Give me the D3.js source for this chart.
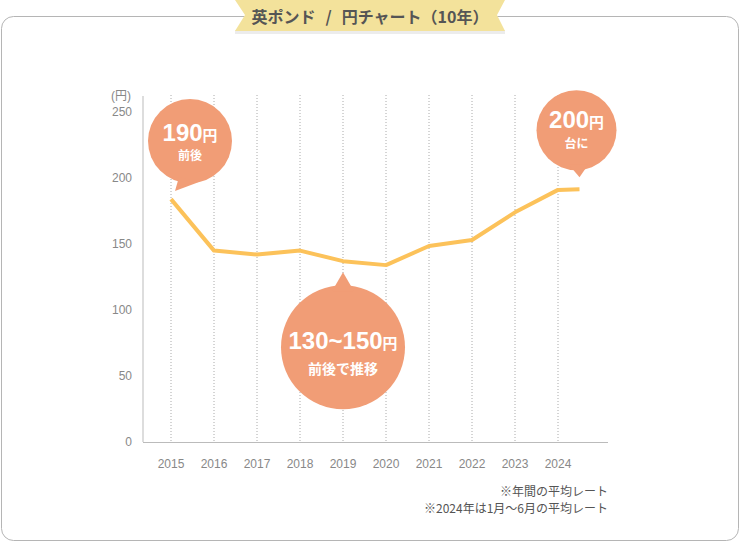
<!DOCTYPE html>
<html><head><meta charset="utf-8">
<script src="https://cdn.jsdelivr.net/npm/d3@7/dist/d3.min.js"></script>
<style>
html,body{margin:0;padding:0;background:#fff;}
svg{display:block;font-family:"Liberation Sans","Noto Sans CJK JP",sans-serif;}
</style></head><body>
<svg id="c" width="740" height="543"></svg>
<script>
const years = [2015,2016,2017,2018,2019,2020,2021,2022,2023,2024];
const xPoints = [2015,2016,2017,2018,2019,2020,2021,2022,2023,2024,2024.5];
const rates = [184,145,142,145,137,134,148.5,153,174,191,191.5];
const yTicks = [0,50,100,150,200,250];
const titleParts = ["英ポンド","/","円チャート（10年）"];
const notes = ["※年間の平均レート","※2024年は1月～6月の平均レート"];

const svg = d3.select("#c");
const x = d3.scaleLinear().domain([2015,2024]).range([171,558]);
const y = d3.scaleLinear().domain([0,250]).range([442,112]);

// frame
svg.append("rect").attr("x",1.5).attr("y",16.5).attr("width",737).attr("height",524)
  .attr("rx",12).attr("fill","#fff").attr("stroke","#b5b5b5").attr("stroke-width",1);

// title banner
svg.append("rect").attr("x",235).attr("y",30).attr("width",270).attr("height",4).attr("fill","#ececec");
svg.append("path").attr("d","M235,0 L505,0 L497,15 L505,31 L235,31 L245,15 Z").attr("fill","#f3e29b");
const tt = svg.append("text").attr("x",370).attr("y",22.5).attr("text-anchor","middle")
  .attr("font-size",16).attr("font-weight","bold").attr("fill","#555")
  .attr("font-family","'Noto Sans CJK JP',sans-serif");
tt.selectAll("tspan").data(titleParts).join("tspan").attr("dx",(d,i)=>i?10:0).text(d=>d);

// grid
svg.append("g").selectAll("line").data(years).join("line")
  .attr("x1",d=>x(d)).attr("x2",d=>x(d)).attr("y1",95).attr("y2",442)
  .attr("stroke","#aaa").attr("stroke-width",1).attr("stroke-dasharray","1,2");

// axes lines
svg.append("line").attr("x1",143).attr("x2",143).attr("y1",96).attr("y2",442).attr("stroke","#bbb");
svg.append("line").attr("x1",143).attr("x2",608).attr("y1",442.5).attr("y2",442.5).attr("stroke","#bbb");

// y labels
svg.append("g").selectAll("text").data(yTicks).join("text")
  .attr("x",132).attr("y",d=>y(d)+4).attr("text-anchor","end")
  .attr("font-size",12).attr("fill","#888").text(d=>d);
svg.append("text").attr("x",121).attr("y",100).attr("text-anchor","middle")
  .attr("font-size",12).attr("fill","#888").text("(円)");

// x labels
svg.append("g").selectAll("text").data(years).join("text")
  .attr("x",d=>x(d)).attr("y",468).attr("text-anchor","middle")
  .attr("font-size",12).attr("fill","#888").text(d=>d);

// line
const line = d3.line().x((d,i)=>x(xPoints[i])).y(d=>y(d));
svg.append("path").datum(rates).attr("d",line).attr("fill","none")
  .attr("stroke","#fcc25a").attr("stroke-width",4).attr("stroke-linejoin","round");

// bubbles
const bub = "#f19d76";
function bubble(cx,cy,r,tail,big,unit,sub,bigSize,subSize,bigDy,subDy){
  const g = svg.append("g");
  g.append("circle").attr("cx",cx).attr("cy",cy).attr("r",r).attr("fill",bub);
  g.append("path").attr("d","M"+tail.map(p=>p.join(",")).join("L")+"Z").attr("fill",bub);
  const t = g.append("text").attr("x",cx).attr("y",cy+bigDy).attr("text-anchor","middle")
    .attr("fill","#fff").attr("font-weight","bold");
  t.append("tspan").attr("font-size",bigSize).text(big);
  t.append("tspan").attr("font-size",bigSize*0.62).attr("font-family","'Noto Sans CJK JP',sans-serif").text(unit);
  g.append("text").attr("x",cx).attr("y",cy+subDy).attr("text-anchor","middle")
    .attr("fill","#fff").attr("font-weight","bold").attr("font-size",subSize)
    .attr("font-family","'Noto Sans CJK JP',sans-serif").text(sub);
}
const p0 = [x(2015), y(rates[0])];
bubble(p0[0]+19, p0[1]-58, 42, [[p0[0]+8,p0[1]-22],[p0[0]+28,p0[1]-17],[p0[0]+4,p0[1]-8]],
  "190","円","前後",24,12,0,19);
const p9 = [x(2024.5), y(rates[10])];
bubble(p9[0]-3, p9[1]-59, 40, [[p9[0]-11,p9[1]-25],[p9[0]+9,p9[1]-25],[p9[0],p9[1]-12]],
  "200","円","台に",24,12,-2,18);
const p4 = [x(2019), y(rates[4])];
bubble(p4[0], p4[1]+86, 62, [[p4[0]-11,p4[1]+30],[p4[0]+11,p4[1]+30],[p4[0],p4[1]+11]],
  "130~150","円","前後で推移",24,14,2,27);

// notes
svg.append("g").selectAll("text").data(notes).join("text")
  .attr("x",608).attr("y",(d,i)=>496+i*16.5).attr("text-anchor","end")
  .attr("font-size",12).attr("fill","#555")
  .attr("font-family","'Noto Sans CJK JP',sans-serif").text(d=>d);
</script></body></html>
